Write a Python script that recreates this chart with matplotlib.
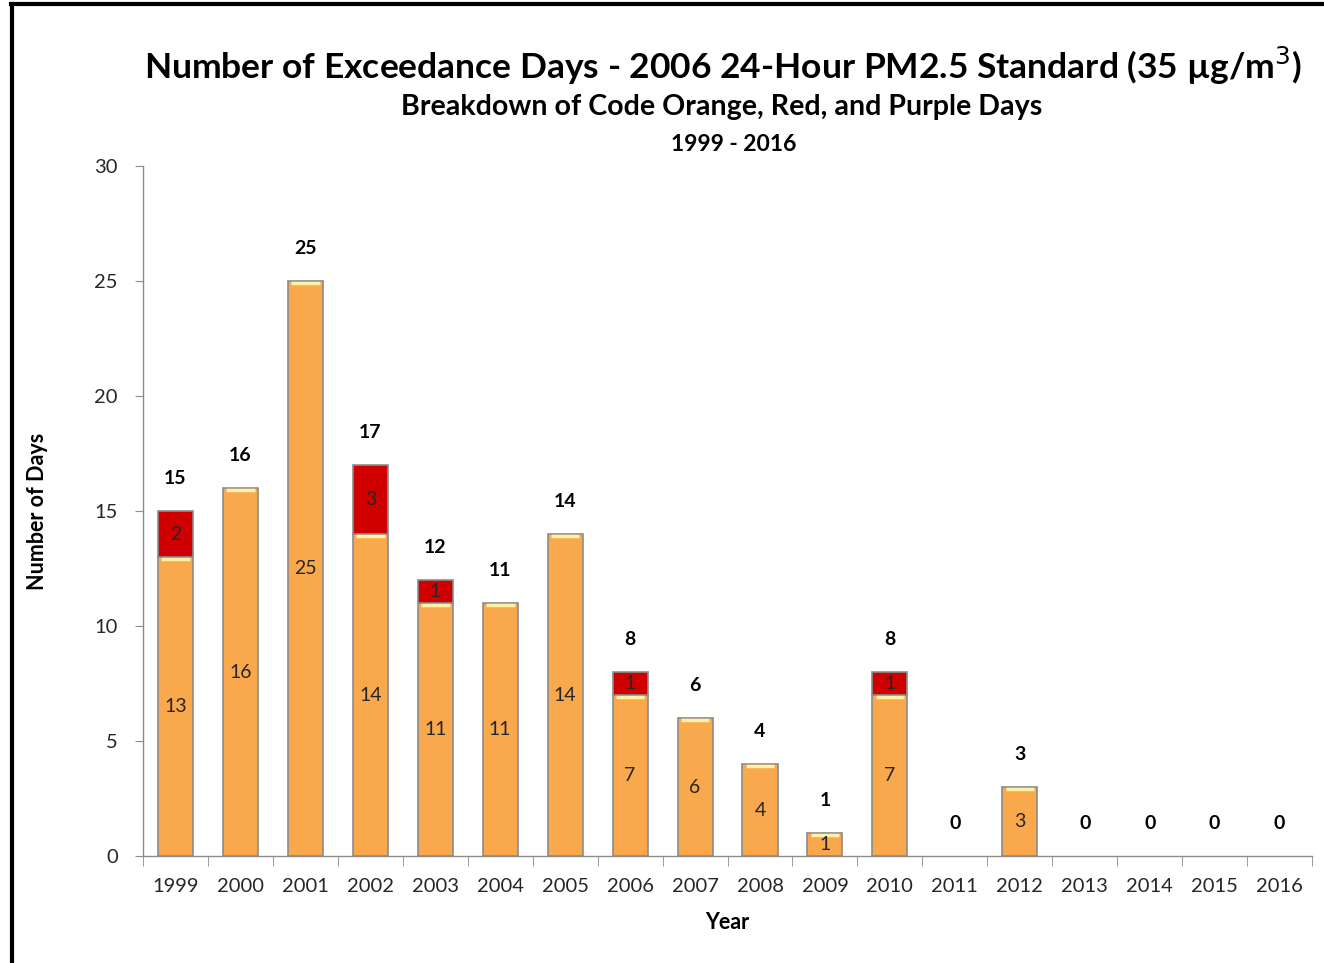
import matplotlib
matplotlib.use("Agg")
import matplotlib.pyplot as plt
import numpy as np
from matplotlib.lines import Line2D

years = ["1999", "2000", "2001", "2002", "2003", "2004", "2005", "2006", "2007",
         "2008", "2009", "2010", "2011", "2012", "2013", "2014", "2015", "2016"]
orange_days = [13, 16, 25, 14, 11, 11, 14, 7, 6, 4, 1, 7, 0, 3, 0, 0, 0, 0]
red_days = [2, 0, 0, 3, 1, 0, 0, 1, 0, 0, 0, 1, 0, 0, 0, 0, 0, 0]
yticks = [0, 5, 10, 15, 20, 25, 30]

plt.rcParams['font.family'] = ['Lato', 'DejaVu Sans']

fig = plt.figure(figsize=(13.24, 9.63), dpi=100)
ax = fig.add_axes([0.108, 0.111, 0.883, 0.7165])

x = np.arange(len(years))
orange = np.array(orange_days)
red = np.array(red_days)
total = orange + red
w = 0.54

ORANGE = "#F9A84C"
RED = "#D00000"
EDGE = "#8C8C8C"

o_edges = [EDGE if v > 0 else 'none' for v in orange]
r_edges = [EDGE if v > 0 else 'none' for v in red]
ax.bar(x, orange, width=w, color=ORANGE, edgecolor=o_edges, linewidth=1.2, zorder=2)
ax.bar(x, red, width=w, bottom=orange, color=RED, edgecolor=r_edges, linewidth=1.2, zorder=2)

# light highlight at top of orange bars
for xi, o in zip(x, orange):
    if o > 0:
        ax.plot([xi - w / 2 + 0.05, xi + w / 2 - 0.05], [o - 0.07, o - 0.07],
                color="#FFF1A8", lw=2.5, zorder=3, solid_capstyle='butt')

for xi, o, r, t in zip(x, orange, red, total):
    if o > 0:
        ax.text(xi, o / 2, str(o), ha='center', va='center', fontsize=14, color='#262626', zorder=4)
    if r > 0:
        ax.text(xi, o + r / 2, str(r), ha='center', va='center', fontsize=14, color='#262626', zorder=4)
    ax.text(xi, t + 1.05, str(t), ha='center', va='bottom', fontsize=14, fontweight='bold', color='black')

ax.set_xlim(-0.5, len(years) - 0.5)
ax.set_ylim(0, 30)
ax.set_yticks(yticks)
ax.set_yticklabels([str(v) for v in yticks], fontsize=14.5, color='#262626')
ax.set_xticks(x)
ax.set_xticklabels(years, fontsize=14.5, color='#262626')
ax.tick_params(axis='x', which='major', length=0, pad=16)
ax.set_xticks(np.arange(-0.5, len(years), 1), minor=True)
ax.tick_params(axis='x', which='minor', length=7, color=EDGE, direction='out')
ax.tick_params(axis='y', length=6, color=EDGE, direction='out', pad=12)

for s in ['top', 'right']:
    ax.spines[s].set_visible(False)
for s in ['left', 'bottom']:
    ax.spines[s].set_color(EDGE)
    ax.spines[s].set_linewidth(1.0)

ax.set_xlabel("Year", fontsize=15.5, fontweight='bold', labelpad=12)
ax.set_ylabel("Number of Days", fontsize=15.5, fontweight='bold')
ax.yaxis.set_label_coords(-0.081, 0.5)

fig.text(0.546, 0.932, "Number of Exceedance Days - 2006 24-Hour PM2.5 Standard (35 µg/m$^3$)",
         ha='center', va='center', fontsize=25.5, fontweight='bold')
fig.text(0.545, 0.889, "Breakdown of Code Orange, Red, and Purple Days",
         ha='center', va='center', fontsize=20.6, fontweight='bold')
fig.text(0.554, 0.850, "1999 - 2016", ha='center', va='center', fontsize=16.5, fontweight='bold')

# figure border lines (top and left)
fig.add_artist(Line2D([0.008, 1.0], [0.996, 0.996], color='black', lw=3, transform=fig.transFigure))
fig.add_artist(Line2D([0.009, 0.009], [0.0, 0.996], color='black', lw=3, transform=fig.transFigure))

fig.savefig("out.png", dpi=100)
